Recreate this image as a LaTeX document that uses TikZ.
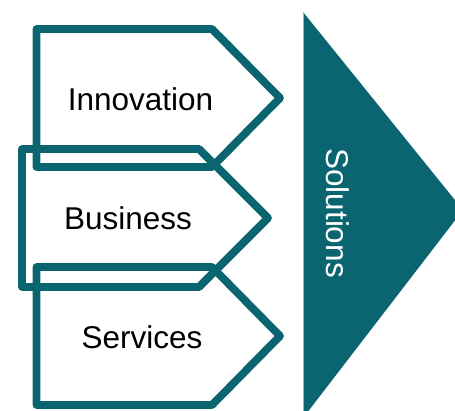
\documentclass[tikz,border=0pt]{standalone}
\usepackage{fontspec}
\setmainfont{Liberation Sans}
\definecolor{teal}{RGB}{10,101,112}
\begin{document}
\begin{tikzpicture}[x=1pt,y=-1pt,
  chev/.style={draw=teal,line width=7.8pt,line join=round},
  lbl/.style={font=\fontsize{31.5}{36}\selectfont,text=black,inner sep=0pt},
  sol/.style={font=\fontsize{31.5}{36}\selectfont,text=white,inner sep=0pt,rotate=-90}]
\useasboundingbox (0,0) rectangle (455,410);
\begin{scope}
\clip (0,0) rectangle (455,410);
\fill[teal] (303,12) -- (463,210) -- (303,418) -- cycle;
\draw[gray!60,line width=0.8pt] (303,12) -- (303,418);
\end{scope}
\draw[chev] (36.5,29) -- (212,29) -- (280,98) -- (212,167) -- (36.5,167) -- cycle;
\draw[chev] (22,149) -- (199,149) -- (268,218) -- (199,287) -- (22,287) -- cycle;
\draw[chev] (36.5,267) -- (212,267) -- (280,336) -- (212,405) -- (36.5,405) -- cycle;
\node[lbl] (innov) at (140.5,99) {Innovation};
\node[lbl] (busi) at (128,218) {Business};
\node[lbl] (serv) at (142,337) {Services};
\node[sol] (solu) at (338,213) {Solutions};
\end{tikzpicture}
\end{document}
